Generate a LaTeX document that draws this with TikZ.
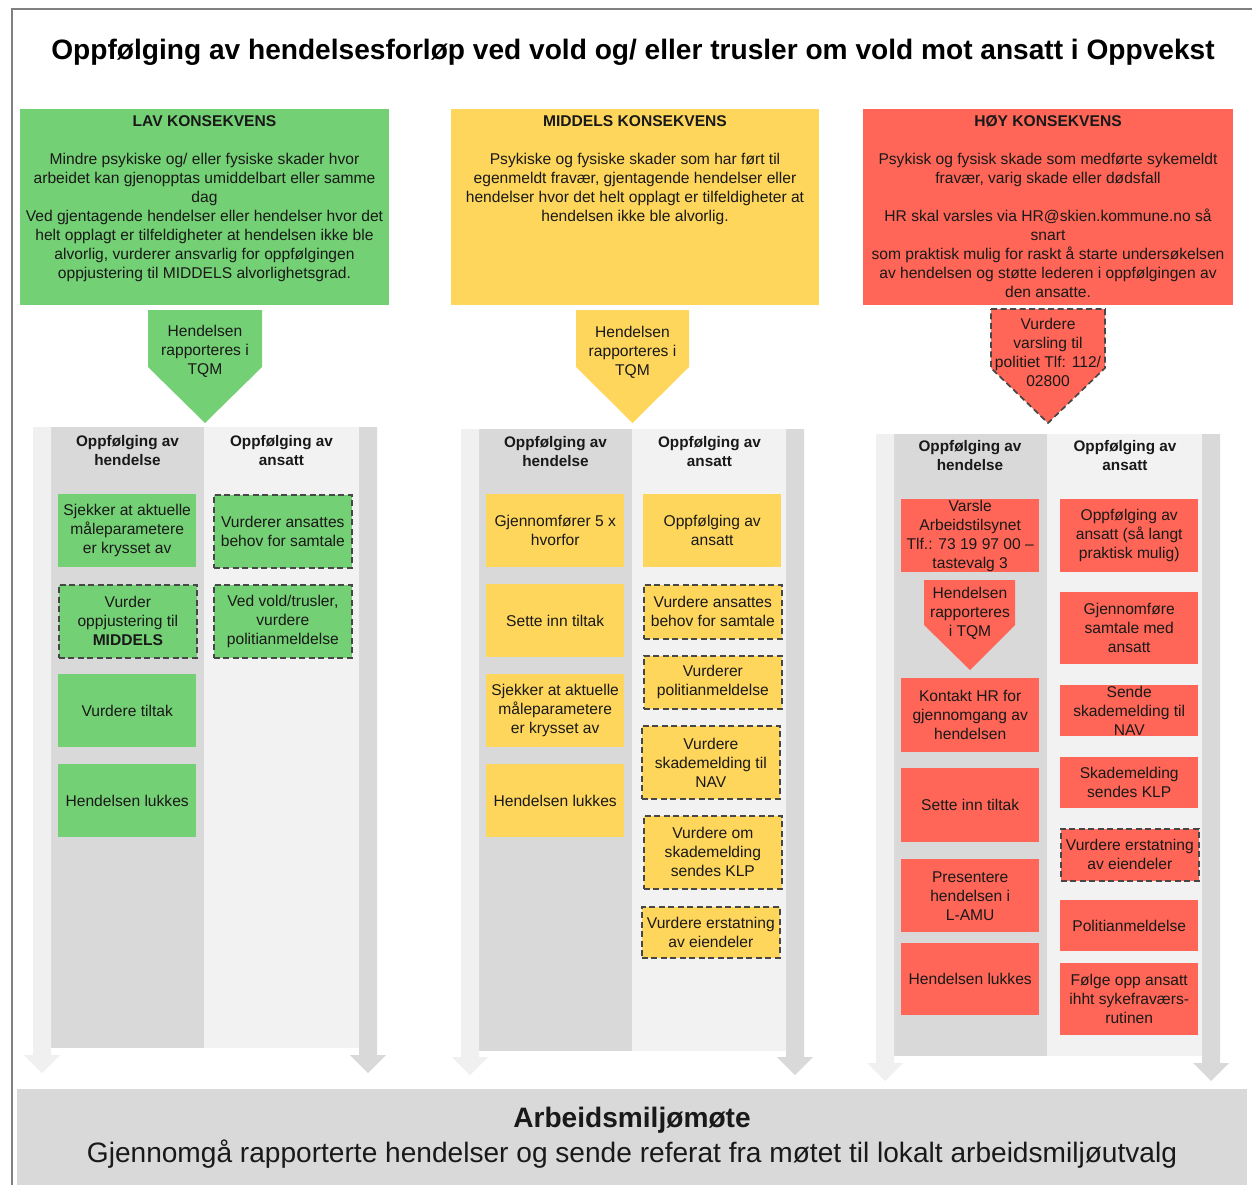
\documentclass[tikz,border=0pt]{standalone}
\usepackage{fontspec}
\setmainfont{Liberation Sans}
\definecolor{grn}{RGB}{116,208,116}
\definecolor{ylw}{RGB}{255,214,92}
\definecolor{rd}{RGB}{255,102,87}
\definecolor{laneA}{RGB}{217,217,217}
\definecolor{laneB}{RGB}{242,242,242}
\definecolor{arrL}{RGB}{240,240,240}
\definecolor{arrR}{RGB}{217,217,217}
\definecolor{frm}{RGB}{128,128,128}
\newcommand\blkarrow[4]{\fill[#4] (#1-9,#2) -- (#1+9,#2) -- (#1+9,#3) -- (#1+18,#3) -- (#1,#3+18) -- (#1-18,#3) -- (#1-9,#3) -- cycle;}
\tikzset{
  txt/.style={font=\fontsize{15.6}{19}\selectfont, align=center, text=black!90, inner sep=0pt},
  btxt/.style={txt, font=\fontsize{15.3}{19}\selectfont\bfseries},
  ibox/.style={txt, minimum width=138, minimum height=73, anchor=north west},
  dbox/.style={ibox, draw=black!72, line width=1.7pt, dash pattern=on 6pt off 3.5pt},
  dline/.style={draw=black!72, line width=1.7pt, dash pattern=on 6pt off 3.5pt}
}
\begin{document}
\begin{tikzpicture}[x=1pt,y=-1pt]
\useasboundingbox (0,0) rectangle (1252,1185);
\fill[white] (0,0) rectangle (1252,1185);
% frame
\draw[frm, line width=1.5pt] (12,1185) -- (12,9) -- (1252,9);
% title
\node[anchor=base, inner sep=0pt, font=\fontsize{28.1}{34}\selectfont\bfseries] (title) at (633,60)
  {Oppfølging av hendelsesforløp ved vold og/ eller trusler om vold mot ansatt i Oppvekst};

% header boxes
\fill[grn] (20,109) rectangle (389,305);
\fill[ylw] (451,109) rectangle (819,305);
\fill[rd] (863,109) rectangle (1233,305);
\node[txt, anchor=north] (h1) at (204.5,115.5) {\textbf{LAV KONSEKVENS}\\[19pt]
Mindre psykiske og/ eller fysiske skader hvor\\
arbeidet kan gjenopptas umiddelbart eller samme\\
dag\\
Ved gjentagende hendelser eller hendelser hvor det\\
helt opplagt er tilfeldigheter at hendelsen ikke ble\\
alvorlig, vurderer ansvarlig for oppfølgingen\\
oppjustering til MIDDELS alvorlighetsgrad.};
\node[txt, anchor=north] (h2) at (635,115.5) {\textbf{MIDDELS KONSEKVENS}\\[19pt]
Psykiske og fysiske skader som har ført til\\
egenmeldt fravær, gjentagende hendelser eller\\
hendelser hvor det helt opplagt er tilfeldigheter at\\
hendelsen ikke ble alvorlig.};
\node[txt, anchor=north] (h3) at (1048,115.5) {\textbf{HØY KONSEKVENS}\\[19pt]
Psykisk og fysisk skade som medførte sykemeldt\\
fravær, varig skade eller dødsfall\\[19pt]
HR skal varsles via HR@skien.kommune.no så\\
snart\\
som praktisk mulig for raskt å starte undersøkelsen\\
av hendelsen og støtte lederen i oppfølgingen av\\
den ansatte.};

% pentagons
\fill[grn] (148,310) -- (262,310) -- (262,367) -- (205,423) -- (148,367) -- cycle;
\node[txt] (p1) at (205,351) {Hendelsen\\rapporteres i\\TQM};
\fill[ylw] (576,310) -- (689,310) -- (689,367) -- (632.5,423) -- (576,367) -- cycle;
\node[txt] (p2) at (632.5,352) {Hendelsen\\rapporteres i\\TQM};
\fill[rd] (991,309) -- (1105,309) -- (1105,368) -- (1048,423) -- (991,368) -- cycle;
\path[dline] (991,309) -- (1105,309) -- (1105,368) -- (1048,423) -- (991,368) -- cycle;
\node[txt] (p3) at (1048,352.5) {Vurdere\\varsling til\\politiet Tlf: 112/\\02800};

% lanes and block arrows
\fill[laneA] (51,427) rectangle (204,1048);
\fill[laneB] (204,427) rectangle (359,1048);
\blkarrow{42}{427}{1055}{arrL}
\blkarrow{368}{427}{1055}{arrR}
\fill[laneA] (479,429) rectangle (632,1051);
\fill[laneB] (632,429) rectangle (786,1051);
\blkarrow{470}{429}{1057}{arrL}
\blkarrow{795}{429}{1057}{arrR}
\fill[laneA] (893,434) rectangle (1047,1056);
\fill[laneB] (1047,434) rectangle (1202,1056);
\blkarrow{885}{434}{1063}{arrL}
\blkarrow{1211}{434}{1063}{arrR}

% lane headers
\node[btxt, anchor=north] (l11) at (127.5,435) {Oppfølging av\\hendelse};
\node[btxt, anchor=north] (l12) at (281.5,435) {Oppfølging av\\ansatt};
\node[btxt, anchor=north] (l21) at (555.5,436) {Oppfølging av\\hendelse};
\node[btxt, anchor=north] (l22) at (709.5,436) {Oppfølging av\\ansatt};
\node[btxt, anchor=north] (l31) at (970,440) {Oppfølging av\\hendelse};
\node[btxt, anchor=north] (l32) at (1125,440) {Oppfølging av\\ansatt};

% column 1 boxes
\node[ibox, fill=grn] (g11) at (58,494) {Sjekker at aktuelle\\måleparametere\\er krysset av};
\node[dbox, fill=grn] (g12) at (58,584) {Vurder\\oppjustering til\\\textbf{MIDDELS}};
\node[ibox, fill=grn] (g13) at (58,674) {Vurdere tiltak};
\node[ibox, fill=grn] (g14) at (58,764) {Hendelsen lukkes};
\node[dbox, fill=grn] (g21) at (213,494) {Vurderer ansattes\\behov for samtale};
\node[dbox, fill=grn] (g22) at (213,584) {Ved vold/trusler,\\vurdere\\politianmeldelse};

% column 2 boxes
\node[ibox, fill=ylw] (y11) at (486,494) {Gjennomfører 5 x\\hvorfor};
\node[ibox, fill=ylw] (y12) at (486,584) {Sette inn tiltak};
\node[ibox, fill=ylw] (y13) at (486,674) {Sjekker at aktuelle\\måleparametere\\er krysset av};
\node[ibox, fill=ylw] (y14) at (486,764) {Hendelsen lukkes};
\node[ibox, fill=ylw] (y21) at (643,494) {Oppfølging av\\ansatt};
\node[dbox, fill=ylw, minimum height=54] (y22) at (643,584) {Vurdere ansattes\\behov for samtale};
\node[dbox, fill=ylw, minimum height=53] (y23) at (643,655) {Vurderer\\politianmeldelse};
\node[dbox, fill=ylw] (y24) at (641,725) {Vurdere\\skademelding til\\NAV};
\node[dbox, fill=ylw] (y25) at (643,815) {Vurdere om\\skademelding\\sendes KLP};
\node[dbox, fill=ylw, minimum height=51] (y26) at (641,906) {Vurdere erstatning\\av eiendeler};

% column 3 boxes
\node[ibox, fill=rd] (r11) at (901,499) {Varsle\\Arbeidstilsynet\\Tlf.: 73 19 97 00 --\\tastevalg 3};
\fill[rd] (924,580) -- (1015,580) -- (1015,625) -- (970,670) -- (924,625) -- cycle;
\node[txt] (p4) at (970,613) {Hendelsen\\rapporteres\\i TQM};
\node[ibox, fill=rd, minimum height=74] (r12) at (901,678) {Kontakt HR for\\gjennomgang av\\hendelsen};
\node[ibox, fill=rd, minimum height=74] (r13) at (901,768) {Sette inn tiltak};
\node[ibox, fill=rd] (r14) at (901,859) {Presentere\\hendelsen i\\L-AMU};
\node[ibox, fill=rd, minimum height=72] (r15) at (901,943) {Hendelsen lukkes};
\node[ibox, fill=rd] (r21) at (1060,499) {Oppfølging av\\ansatt (så langt\\praktisk mulig)};
\node[ibox, fill=rd, minimum height=72] (r22) at (1060,592) {Gjennomføre\\samtale med\\ansatt};
\node[ibox, fill=rd, minimum height=51] (r23) at (1060,685) {Sende\\skademelding til\\NAV};
\node[ibox, fill=rd, minimum height=51] (r24) at (1060,757) {Skademelding\\sendes KLP};
\node[dbox, fill=rd, minimum height=52] (r25) at (1060,828) {Vurdere erstatning\\av eiendeler};
\node[ibox, fill=rd, minimum height=51] (r26) at (1060,900) {Politianmeldelse};
\node[ibox, fill=rd, minimum height=72] (r27) at (1060,963) {Følge opp ansatt\\ihht sykefraværs-\\rutinen};

% bottom box
\fill[laneA] (17,1089) rectangle (1247,1185);
\node[txt, anchor=north, font=\fontsize{28.1}{35}\selectfont] (amm) at (632,1107)
  {\textbf{Arbeidsmiljømøte}\\Gjennomgå rapporterte hendelser og sende referat fra møtet til lokalt arbeidsmiljøutvalg};
\end{tikzpicture}
\end{document}
